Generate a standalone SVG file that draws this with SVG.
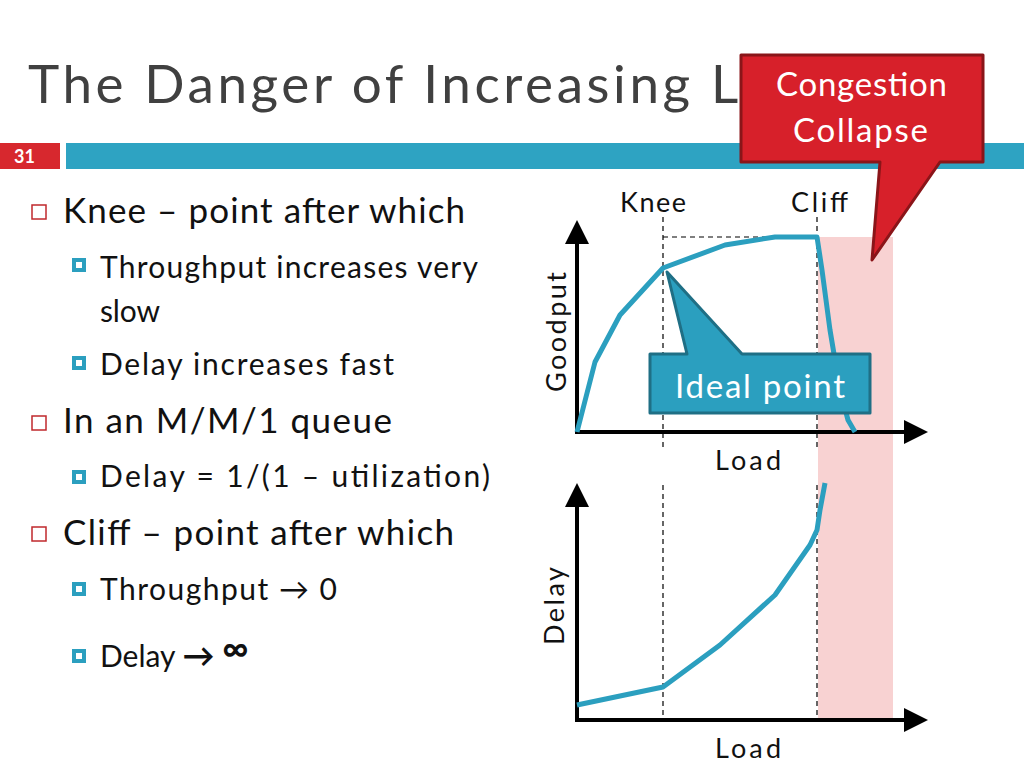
<svg xmlns="http://www.w3.org/2000/svg" width="1024" height="768" viewBox="0 0 1024 768">
<style>
text{font-family:Lato,"Open Sans","DejaVu Sans",sans-serif;fill:#111}
.l1{font-size:35px}.l2{font-size:30px}.lab{font-size:27px}
.b1{fill:#fff;stroke:#c0282d;stroke-width:1.5}
.b2{fill:#fff;stroke:#2b9fbf;stroke-width:4}
.ax{stroke:#000;stroke-width:4;fill:none}
.dash{stroke:#000;stroke-width:1.2;stroke-dasharray:5,4;fill:none}
.curve{stroke:#2b9fbf;stroke-width:5;fill:none;stroke-linejoin:round}
</style>
<defs><marker id="ah" markerWidth="6" markerHeight="6" refX="3" refY="3" orient="auto" markerUnits="strokeWidth"><path d="M0,0L6,3L0,6z" fill="#000"/></marker></defs>
<rect width="1024" height="768" fill="#fff"/>
<text x="28" y="103" textLength="805" style="font-size:53px;fill:#404040">The Danger of Increasing Load</text>
<rect x="0" y="143" width="60" height="26" fill="#d7282e"/>
<text x="14" y="163" style="font-size:18px;font-weight:bold;fill:#fff">31</text>
<rect x="66" y="143" width="958" height="26" fill="#2ea3c2"/>
<rect x="818" y="237" width="75" height="483" fill="#f8d2d2"/>
<g id="bullets">
<rect class="b1" x="32" y="205" width="14" height="14"/><text class="l1" x="63" y="223" textLength="402">Knee – point after which</text>
<rect class="b2" x="74" y="260" width="10" height="10"/><text class="l2" x="100" y="278" textLength="378">Throughput increases very</text>
<text class="l2" x="100" y="322" textLength="60">slow</text>
<rect class="b2" x="74" y="358" width="10" height="10"/><text class="l2" x="100" y="375" textLength="294">Delay increases fast</text>
<rect class="b1" x="32" y="416" width="14" height="14"/><text class="l1" x="63" y="433" textLength="329">In an M/M/1 queue</text>
<rect class="b2" x="74" y="472" width="10" height="10"/><text class="l2" x="100" y="487" textLength="390">Delay = 1/(1 – utilization)</text>
<rect class="b1" x="32" y="527" width="14" height="14"/><text class="l1" x="63" y="545" textLength="391">Cliff – point after which</text>
<rect class="b2" x="74" y="584" width="10" height="10"/><text class="l2" x="100" y="600" textLength="237">Throughput → 0</text>
<rect class="b2" x="74" y="651" width="10" height="10"/><text class="l2" x="100" y="667">Delay <tspan style="font-size:32px;font-weight:bold">→</tspan> <tspan style="font-weight:bold;font-size:36px" dy="-6">∞</tspan></text>
</g>
<g id="connectors">
<line class="dash" x1="663" y1="217" x2="663" y2="450"/><line class="dash" x1="663" y1="485" x2="663" y2="720"/>
<line class="dash" x1="817" y1="217" x2="817" y2="450"/><line class="dash" x1="817" y1="485" x2="817" y2="720"/>
<line class="dash" x1="663" y1="237" x2="817" y2="237"/>
<line class="ax" x1="577" y1="434" x2="577" y2="232" marker-end="url(#ah)"/>
<line class="ax" x1="575" y1="432" x2="916" y2="432" marker-end="url(#ah)"/>
<line class="ax" x1="577" y1="722" x2="577" y2="495" marker-end="url(#ah)"/>
<line class="ax" x1="575" y1="720" x2="916" y2="720" marker-end="url(#ah)"/>
<polyline class="curve" points="577,432 595,362 620,315 663,268 725,245 775,237 817,237 822,270 830,330 840,390 848,420 855,432"/>
<polyline class="curve" points="577,705 663,687 720,645 775,595 810,545 817,530 820,510 825,483"/>
</g>
<text class="lab" x="620" y="212" textLength="66">Knee</text>
<text class="lab" x="791" y="212" textLength="57">Cliff</text>
<text class="lab" x="715" y="470" textLength="66">Load</text>
<text class="lab" x="715" y="758" textLength="66">Load</text>
<text class="lab" transform="translate(566,392) rotate(-90)" textLength="120">Goodput</text>
<text class="lab" transform="translate(564,645) rotate(-90)" textLength="78">Delay</text>
<g id="ideal">
<path d="M650,354H687L667,272L742,354H870V413H650Z" fill="#2b9fbf" stroke="#1f6f85" stroke-width="3" stroke-linejoin="round"/>
<text x="675" y="398" textLength="170" style="font-size:33px;fill:#fff">Ideal point</text>
</g>
<g id="collapse">
<path d="M741,55H983V162H940L872,260L880,162H741Z" fill="#d7202a" stroke="#8a1519" stroke-width="3" stroke-linejoin="round"/>
<text x="776" y="96" textLength="171" style="font-size:33px;fill:#fff">Congestion</text>
<text x="793" y="142" textLength="135" style="font-size:33px;fill:#fff">Collapse</text>
</g>
</svg>
